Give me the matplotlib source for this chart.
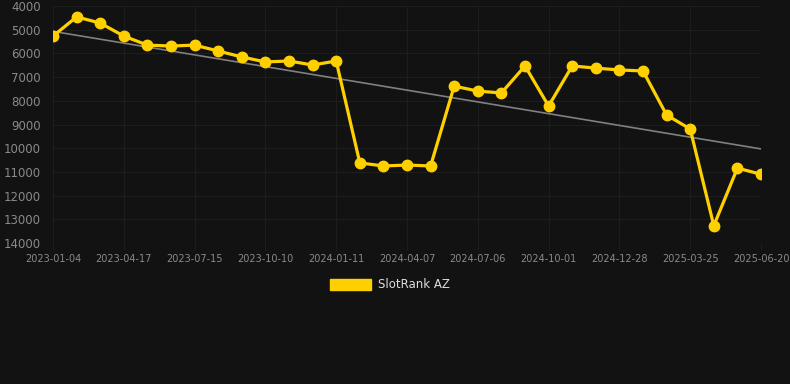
import numpy as np
import matplotlib
matplotlib.use('Agg')
from matplotlib import pyplot as plt
from matplotlib.patches import Patch

# Rank values, one per sample (every 3rd sample carries a date label)
ranks = [5270, 4460, 4720, 5270, 5650, 5690, 5650, 5900, 6150, 6360,
         6320, 6490, 6320, 10620, 10750, 10710, 10750, 7380, 7590, 7670,
         6530, 8220, 6530, 6620, 6700, 6740, 8600, 9190, 13270, 10840,
         11100]
tick_labels = ['2023-01-04', '2023-04-17', '2023-07-15', '2023-10-10',
               '2024-01-11', '2024-04-07', '2024-07-06', '2024-10-01',
               '2024-12-28', '2025-03-25', '2025-06-20']
series_name = 'SlotRank AZ'

bg = '#121212'
yellow = '#FFD000'

fig = plt.figure(figsize=(7.9, 3.84), dpi=100, facecolor=bg)
ax = fig.add_axes([53 / 790, 1 - 243 / 384, (761 - 53) / 790, (243 - 6) / 384])
ax.set_facecolor(bg)

x = np.arange(len(ranks))

# trend line (least squares)
k, b = np.polyfit(x, ranks, 1)
ax.plot(x, k * x + b, color='#808080', linewidth=1.2, zorder=2)

ax.plot(x, ranks, color=yellow, linewidth=2.3, marker='o', markersize=7.5,
        zorder=3)

ax.set_xlim(0, len(ranks) - 1)
ax.set_ylim(14000, 4000)
ax.set_yticks(np.arange(4000, 14001, 1000))
ax.set_xticks(x[::3])
ax.set_xticklabels(tick_labels)

ax.grid(True, color='#1d1d1d', linewidth=0.8)
for s in ax.spines.values():
    s.set_visible(False)
ax.tick_params(axis='y', length=0, pad=9, labelcolor='#8a8a8a', labelsize=8.5)
ax.tick_params(axis='x', length=5, color='#1d1d1d', pad=3,
               labelcolor='#8a8a8a', labelsize=7)

fig.legend(handles=[Patch(color=yellow, label=series_name)],
           loc='center', bbox_to_anchor=(390 / 790, 1 - 285 / 384),
           frameon=False, fontsize=8.5, labelcolor='#dddddd',
           handlelength=3.4, handleheight=1.0, handletextpad=0.6)

fig.savefig('out.png', dpi=100, facecolor=bg)
